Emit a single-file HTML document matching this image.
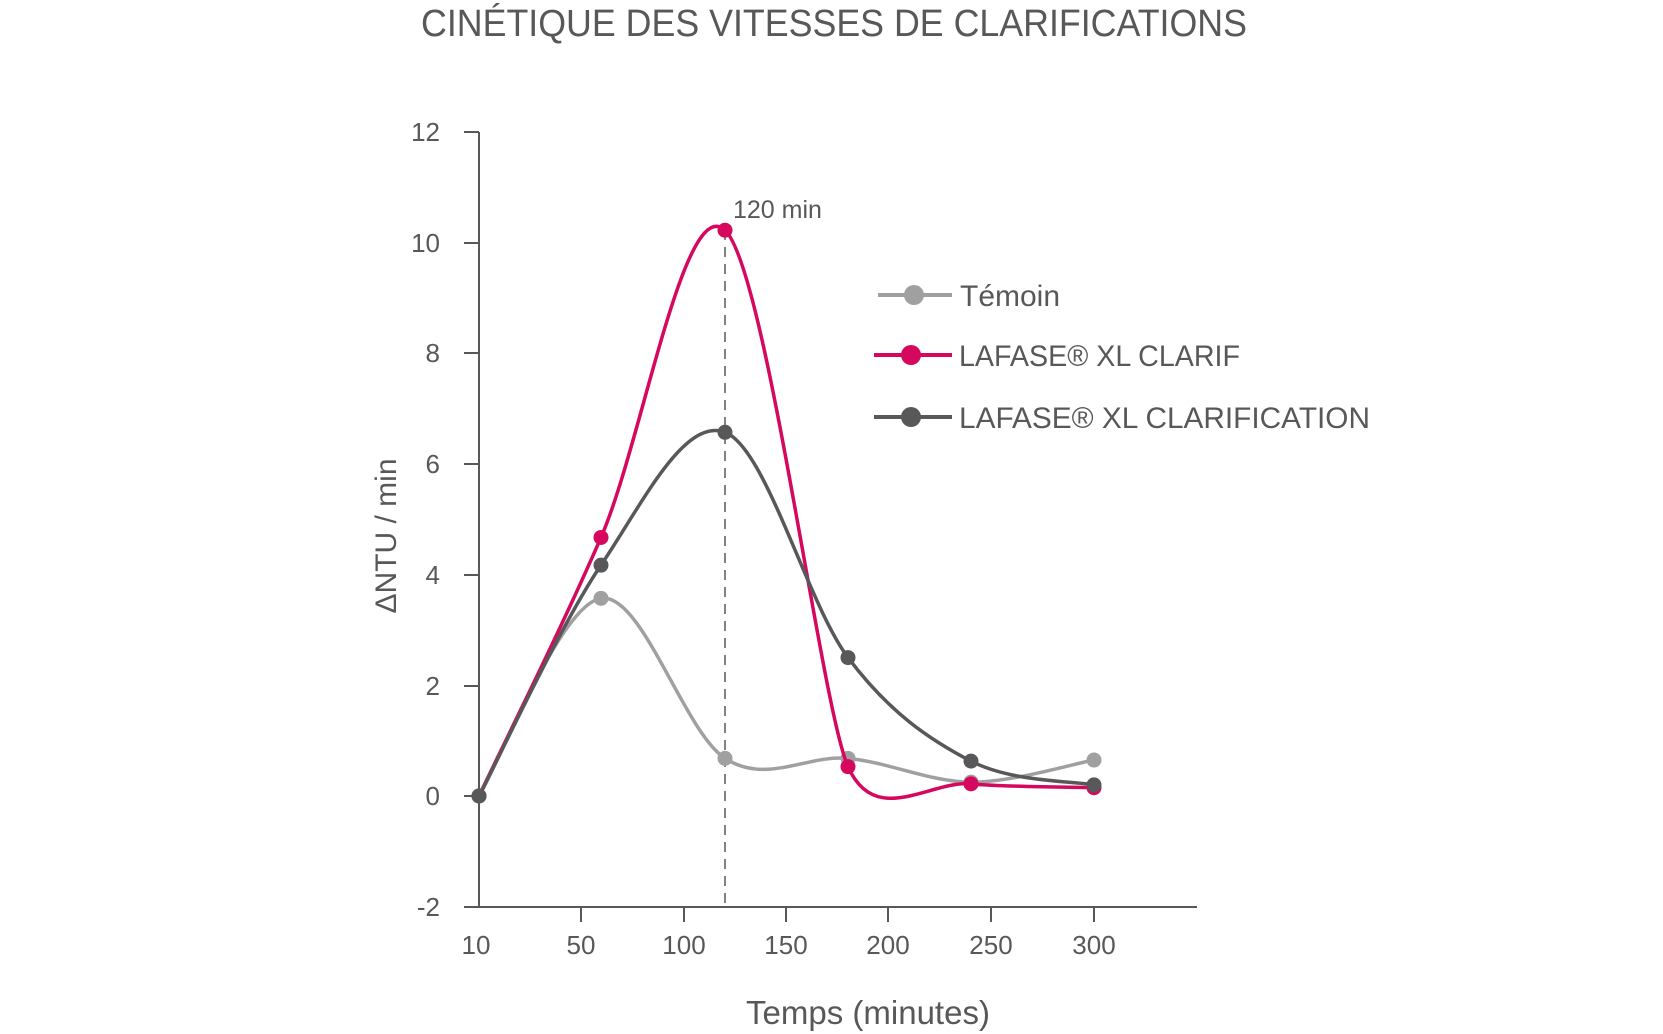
<!DOCTYPE html>
<html><head><meta charset="utf-8"><style>
html,body{margin:0;padding:0;background:#fff;}
svg{display:block;font-family:"Liberation Sans",sans-serif;}
</style></head><body>
<svg id="s" width="1663" height="1034" viewBox="0 0 1663 1034" xmlns="http://www.w3.org/2000/svg">
<text x="834" y="36" text-anchor="middle" font-size="38" fill="#58585a" textLength="826" lengthAdjust="spacingAndGlyphs">CINÉTIQUE DES VITESSES DE CLARIFICATIONS</text>
<g stroke="#58585a" stroke-width="2" fill="none">
<line x1="479" y1="132" x2="479" y2="907"/>
<line x1="479" y1="907" x2="1197" y2="907"/>
<line x1="464" y1="132" x2="479" y2="132"/>
<line x1="464" y1="243" x2="479" y2="243"/>
<line x1="464" y1="353" x2="479" y2="353"/>
<line x1="464" y1="464" x2="479" y2="464"/>
<line x1="464" y1="575" x2="479" y2="575"/>
<line x1="464" y1="686" x2="479" y2="686"/>
<line x1="464" y1="796" x2="479" y2="796"/>
<line x1="464" y1="907" x2="479" y2="907"/>
<line x1="581" y1="907" x2="581" y2="922"/>
<line x1="684" y1="907" x2="684" y2="922"/>
<line x1="786" y1="907" x2="786" y2="922"/>
<line x1="888" y1="907" x2="888" y2="922"/>
<line x1="991" y1="907" x2="991" y2="922"/>
<line x1="1094" y1="907" x2="1094" y2="922"/>
<line x1="725" y1="230" x2="725" y2="907" stroke-dasharray="10,7" stroke-width="1.5"/>
</g>
<g font-size="26" fill="#58585a" text-anchor="end">
<text x="440" y="141">12</text><text x="440" y="252">10</text><text x="440" y="362">8</text>
<text x="440" y="473">6</text><text x="440" y="584">4</text><text x="440" y="695">2</text>
<text x="440" y="805">0</text><text x="440" y="916">-2</text>
</g>
<g font-size="26" fill="#58585a" text-anchor="middle">
<text x="476" y="954">10</text><text x="581" y="954">50</text><text x="684" y="954">100</text>
<text x="786" y="954">150</text><text x="888" y="954">200</text><text x="991" y="954">250</text><text x="1094" y="954">300</text>
<text x="868" y="1024" font-size="33">Temps (minutes)</text>
<text transform="translate(396,536) rotate(-90)" font-size="30">ΔNTU / min</text>
</g>
<text x="733" y="218" font-size="25" fill="#58585a">120 min</text>
<g id="series"></g>
<g stroke-width="4">
<line x1="878" y1="295" x2="952" y2="295" stroke="#a0a0a0"/><circle cx="914" cy="295" r="10" fill="#a0a0a0"/>
<line x1="874" y1="355" x2="952" y2="355" stroke="#d6085e"/><circle cx="911" cy="355" r="10" fill="#d6085e"/>
<line x1="874" y1="417" x2="952" y2="417" stroke="#58585a"/><circle cx="911" cy="417" r="10" fill="#58585a"/>
</g>
<g font-size="30" fill="#58585a">
<text x="960" y="306">Témoin</text>
<text x="959" y="366" textLength="281" lengthAdjust="spacingAndGlyphs">LAFASE® XL CLARIF</text>
<text x="959" y="428" textLength="411" lengthAdjust="spacingAndGlyphs">LAFASE® XL CLARIFICATION</text>
</g>
</svg>
<script>
var xs=[479,601,725,848,971,1094];
var data=[["#a0a0a0",[0,3.57,0.68,0.68,0.25,0.65]],["#d6085e",[0,4.67,10.22,0.53,0.22,0.15]],["#58585a",[0,4.17,6.57,2.5,0.63,0.2]]];
var g=document.getElementById("series"),h="";
data.forEach(function(d,k){
 var p=xs.map(function(x,i){return [x,796-d[1][i]*55.36];});
 var s="M"+p[0][0]+","+p[0][1];
 for(var i=0;i<p.length-1;i++){
  var p0=p[i-1]||p[i],p1=p[i],p2=p[i+1],p3=p[i+2]||p2,t=6,t2=6;
  if(k==1&&i==3){t=9;}
  if(k==1&&i==2){t2=9;}
  s+=" C"+(p1[0]+(p2[0]-p0[0])/t)+","+(p1[1]+(p2[1]-p0[1])/t)+" "+(p2[0]-(p3[0]-p1[0])/t2)+","+(p2[1]-(p3[1]-p1[1])/t2)+" "+p2[0]+","+p2[1];
 }
 h+='<path d="'+s+'" fill="none" stroke="'+d[0]+'" stroke-width="3.5"/>';
 p.forEach(function(q){h+='<circle cx="'+q[0]+'" cy="'+q[1]+'" r="7.5" fill="'+d[0]+'"/>';});
});
g.innerHTML=h;
</script>
</body></html>
